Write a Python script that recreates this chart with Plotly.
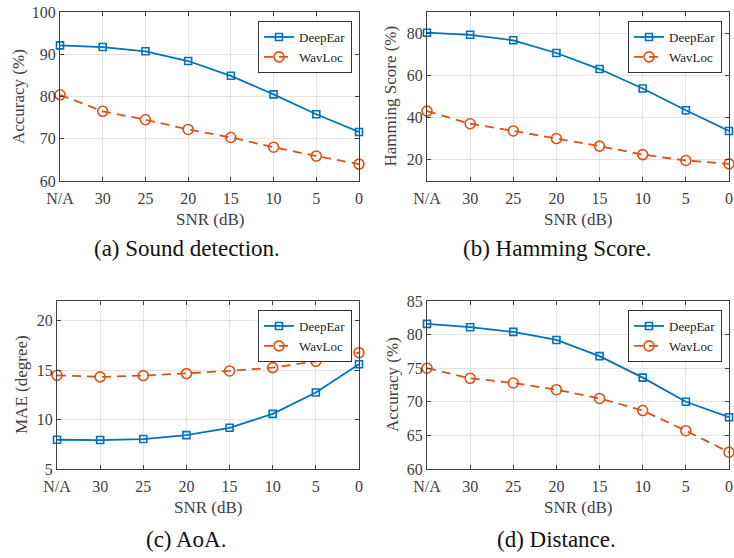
import plotly.graph_objects as go

snr_labels = ["N/A", "30", "25", "20", "15", "10", "5", "0"]

detect_deepear = [92.1, 91.7, 90.7, 88.4, 84.9, 80.5, 75.8, 71.6]
detect_wavloc = [80.4, 76.5, 74.5, 72.2, 70.3, 68.0, 65.9, 64.0]

hamming_deepear = [80.2, 79.2, 76.6, 70.6, 63.0, 53.8, 43.5, 33.7]
hamming_wavloc = [43.1, 37.1, 33.7, 30.1, 26.5, 22.5, 19.7, 18.1]

aoa_deepear = [7.96, 7.93, 8.03, 8.43, 9.17, 10.58, 12.74, 15.6]
aoa_wavloc = [14.48, 14.32, 14.45, 14.65, 14.92, 15.26, 15.9, 16.77]

dist_deepear = [81.6, 81.1, 80.4, 79.2, 76.8, 73.6, 70.0, 67.7]
dist_wavloc = [75.0, 73.5, 72.8, 71.8, 70.5, 68.7, 65.7, 62.5]

captions = ["(a) Sound detection.", "(b) Hamming Score.", "(c) AoA.", "(d) Distance."]
ytitles = ["Accuracy (%)", "Hamming Score (%)", "MAE (degree)", "Accuracy (%)"]
yranges = [[60, 100], [10, 90], [5, 22], [60, 85]]
ytickvals = [[60, 70, 80, 90, 100], [20, 40, 60, 80], [5, 10, 15, 20], [60, 65, 70, 75, 80, 85]]

W, H = 734, 558
BLUE = "#0072BD"
ORANGE = "#D95319"
AXC = "#404040"
SERIF = "Liberation Serif"

# plot areas in pixels: (x0, x1, ytop, ybottom)
areas = [(60, 359, 12, 181), (427, 729, 12, 181), (57, 359, 301, 469), (427, 729, 301, 469)]

x_idx = list(range(len(snr_labels)))
series = [(detect_deepear, detect_wavloc), (hamming_deepear, hamming_wavloc),
          (aoa_deepear, aoa_wavloc), (dist_deepear, dist_wavloc)]

fig = go.Figure()
layout = dict(width=W, height=H, margin=dict(l=0, r=0, t=0, b=0),
              paper_bgcolor="white", plot_bgcolor="white", showlegend=True,
              font=dict(family=SERIF, color=AXC))
annotations = []

for i, ((deep, wav), (x0, x1, yt, yb)) in enumerate(zip(series, areas)):
    n = i + 1
    xa = "x" if n == 1 else f"x{n}"
    ya = "y" if n == 1 else f"y{n}"
    lg = "legend" if n == 1 else f"legend{n}"
    fig.add_trace(go.Scatter(x=x_idx, y=deep, mode="lines+markers", name="DeepEar",
                             xaxis=xa, yaxis=ya, legend=lg, cliponaxis=False,
                             line=dict(color=BLUE, width=1.8),
                             marker=dict(symbol="square-open", size=7, color=BLUE,
                                         line=dict(width=1.6, color=BLUE))))
    fig.add_trace(go.Scatter(x=x_idx, y=wav, mode="lines+markers", name="WavLoc",
                             xaxis=xa, yaxis=ya, legend=lg, cliponaxis=False,
                             line=dict(color=ORANGE, width=1.8, dash="9px,6px"),
                             marker=dict(symbol="circle-open", size=10, color=ORANGE,
                                         line=dict(width=1.6, color=ORANGE))))
    xkey = "xaxis" if n == 1 else f"xaxis{n}"
    ykey = "yaxis" if n == 1 else f"yaxis{n}"
    layout[xkey] = dict(domain=[x0 / W, x1 / W], anchor=ya, range=[0, 7],
                        tickvals=x_idx, ticktext=snr_labels, showline=True, mirror="ticks",
                        linecolor=AXC, linewidth=1, ticks="inside", ticklen=4, tickcolor=AXC,
                        showgrid=True, gridcolor="#E3E3E3", gridwidth=1, zeroline=False,
                        ticklabelstandoff=3,
                        tickfont=dict(family=SERIF, size=16, color=AXC), automargin=False)
    layout[ykey] = dict(domain=[1 - yb / H, 1 - yt / H], anchor=xa, range=yranges[i],
                        tickvals=ytickvals[i], showline=True, mirror="ticks",
                        linecolor=AXC, linewidth=1, ticks="inside", ticklen=4, tickcolor=AXC,
                        showgrid=True, gridcolor="#E3E3E3", gridwidth=1, zeroline=False,
                        tickfont=dict(family=SERIF, size=16, color=AXC), automargin=False)
    layout[lg] = dict(x=(x1 - 7) / W, y=1 - (yt + 9) / H, xanchor="right", yanchor="top",
                      bgcolor="white", bordercolor="#333333", borderwidth=1,
                      font=dict(family=SERIF, size=13, color="#222222"),
                      tracegroupgap=0, itemwidth=30)
    # x-axis title
    title_y = yb + 38
    annotations.append(dict(text="SNR (dB)", x=(x0 + x1) / 2 / W, y=1 - title_y / H,
                            xref="paper", yref="paper", showarrow=False,
                            xanchor="center", yanchor="middle",
                            font=dict(family=SERIF, size=17, color=AXC)))
    # y-axis title
    ytx = [18.5, 390, 21, 392][i]
    annotations.append(dict(text=ytitles[i], x=ytx / W, y=1 - (yt + yb) / 2 / H,
                            xref="paper", yref="paper", showarrow=False, textangle=-90,
                            xanchor="center", yanchor="middle",
                            font=dict(family=SERIF, size=17, color=AXC)))
    # caption
    cx = [187, 557, 186, 556][i]
    cy = [248, 248, 539, 539][i]
    annotations.append(dict(text=captions[i], x=cx / W, y=1 - cy / H,
                            xref="paper", yref="paper", showarrow=False,
                            xanchor="center", yanchor="middle",
                            font=dict(family=SERIF, size=23, color="#111111")))

layout["annotations"] = annotations
fig.update_layout(**layout)
fig.write_html("out.html")
